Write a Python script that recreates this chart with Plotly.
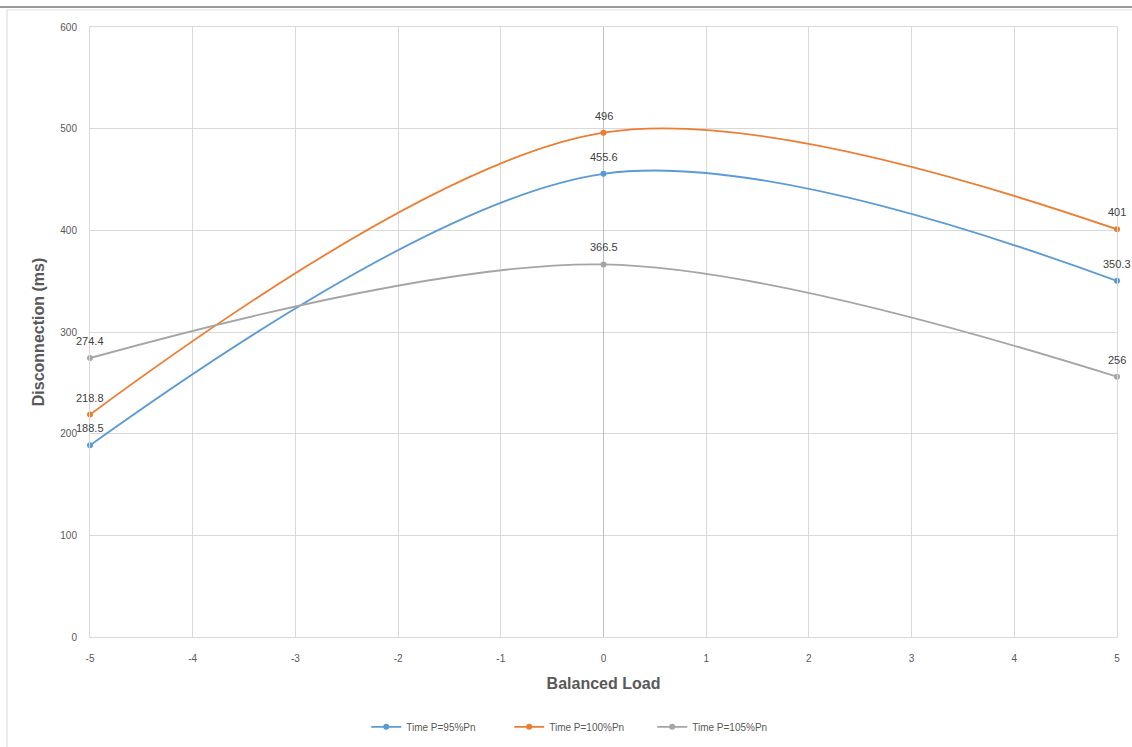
import plotly.graph_objects as go

x_vals = [-5, 0, 5]
series_names = ["Time P=95%Pn", "Time P=100%Pn", "Time P=105%Pn"]
y_95 = [188.5, 455.6, 350.3]
y_100 = [218.8, 496, 401]
y_105 = [274.4, 366.5, 256]
colors = ["#5b9bd5", "#ed7d31", "#a5a5a5"]
x_ticks = [-5, -4, -3, -2, -1, 0, 1, 2, 3, 4, 5]
x_tick_labels = ["-5", "-4", "-3", "-2", "-1", "0", "1", "2", "3", "4", "5"]
y_ticks = [0, 100, 200, 300, 400, 500, 600]

FONT = "Liberation Sans"
W, H = 1132, 747
L, R, T, B = 90, 15, 27, 110
pw, ph = W - L - R, H - T - B

def px_x(p):
    return (p - L) / pw

def px_y(p):
    return (H - B - p) / ph

fig = go.Figure()
annotations = []
for name, ys, c in zip(series_names, [y_95, y_100, y_105], colors):
    fig.add_trace(go.Scatter(
        x=x_vals, y=ys, name=name, mode="lines+markers",
        line=dict(color=c, width=1.8, shape="spline", smoothing=0.95),
        marker=dict(color=c, size=6),
        cliponaxis=False,
    ))
    for xv, yv in zip(x_vals, ys):
        annotations.append(dict(
            x=xv, y=yv, xref="x", yref="y", text=f"{yv:g}",
            showarrow=False, yshift=17,
            font=dict(family=FONT, size=11, color="#404040"),
        ))

fig.update_layout(
    width=W, height=H,
    margin=dict(l=L, r=R, t=T, b=B),
    paper_bgcolor="white", plot_bgcolor="white",
    font=dict(family=FONT, color="#595959"),
    showlegend=True,
    annotations=annotations,
    legend=dict(orientation="h", xref="container", yref="container",
                x=0.513, xanchor="center", y=0.027, yanchor="middle",
                font=dict(family=FONT, size=10, color="#595959"),
                itemwidth=30, entrywidth=98, entrywidthmode="pixels",
                tracegroupgap=0),
    xaxis=dict(range=[-5, 5], tickvals=x_ticks, ticktext=x_tick_labels,
               showgrid=True,
               gridcolor="#d9d9d9", gridwidth=1, zeroline=True,
               zerolinecolor="#bfbfbf", zerolinewidth=1,
               showline=True, linecolor="#d9d9d9", mirror=True,
               tickfont=dict(family=FONT, size=10, color="#595959"),
               ticks="", ticklabelstandoff=12,
               title=dict(text="<b>Balanced Load</b>", standoff=14,
                          font=dict(family=FONT, size=16, color="#595959"))),
    yaxis=dict(range=[0, 600], tickvals=y_ticks, showgrid=True,
               gridcolor="#d9d9d9", gridwidth=1, zeroline=True,
               zerolinecolor="#d9d9d9", zerolinewidth=1,
               showline=True, linecolor="#d9d9d9", mirror=True,
               tickfont=dict(family=FONT, size=10, color="#595959"),
               ticks="", ticklabelstandoff=10,
               title=dict(text="<b>Disconnection (ms)</b>", standoff=11,
                          font=dict(family=FONT, size=16, color="#595959"))),
    shapes=[
        dict(type="line", xref="paper", yref="paper",
             x0=px_x(0), x1=px_x(W), y0=px_y(7), y1=px_y(7),
             line=dict(color="#9a9a9a", width=2)),
        dict(type="line", xref="paper", yref="paper",
             x0=px_x(7), x1=px_x(W), y0=px_y(10), y1=px_y(10),
             line=dict(color="#e0e0e0", width=1)),
        dict(type="line", xref="paper", yref="paper",
             x0=px_x(7), x1=px_x(7), y0=px_y(10), y1=px_y(H),
             line=dict(color="#d9d9d9", width=1)),
    ],
)

fig.write_html(
    "out.html",
    config={"displayModeBar": False},
    post_script="document.body.style.margin='0';document.body.style.overflow='hidden';",
)
